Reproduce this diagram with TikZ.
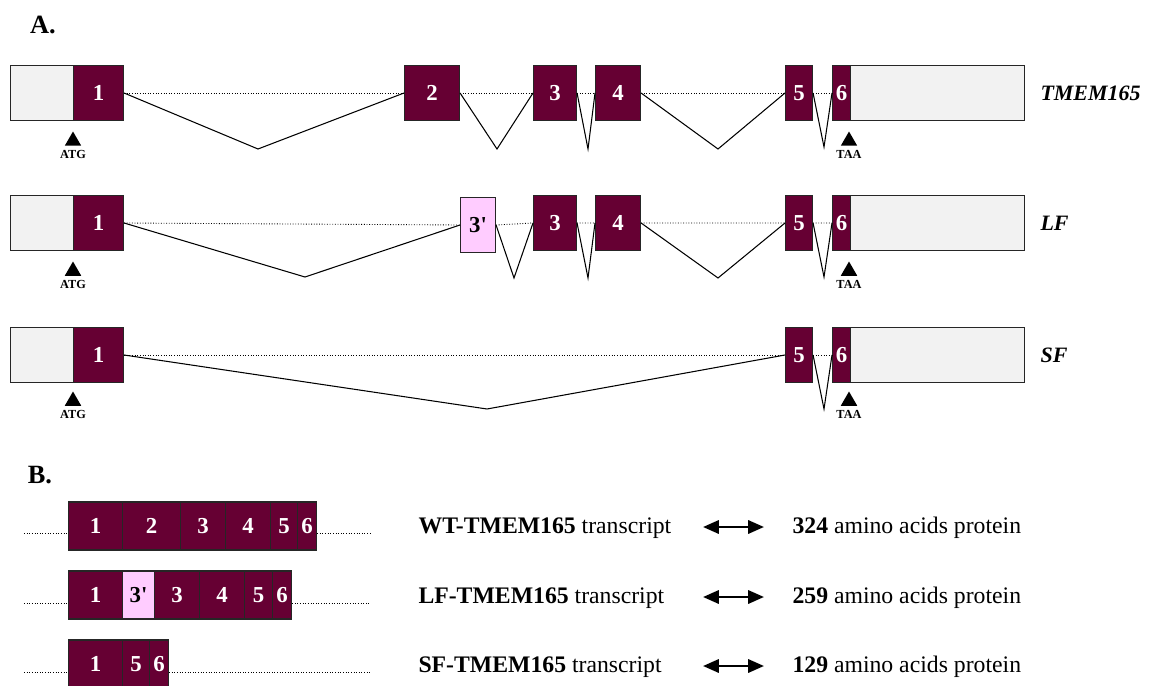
\documentclass[tikz,border=0pt]{standalone}
\usepackage{fontspec}
\setmainfont{Liberation Serif}
\usetikzlibrary{arrows.meta,shapes.geometric}
\definecolor{exonred}{RGB}{102,0,51}
\definecolor{utrgray}{RGB}{242,242,242}
\definecolor{altpink}{RGB}{255,204,255}

\begin{document}
\begin{tikzpicture}[x=0.02cm,y=-0.02cm,line width=.6pt,
  exon/.style={draw=black!85,fill=exonred,text=white,font=\fontsize{13}{15}\selectfont\bfseries,inner sep=0pt,anchor=west,minimum height=1.1cm},
  altexon/.style={exon,fill=altpink,text=black},
  utr/.style={exon,fill=utrgray},
  pexon/.style={exon,minimum height=.96cm},
  intron/.style={densely dotted,line width=.5pt},
  cdn/.style={regular polygon,regular polygon sides=3,fill=black,inner sep=0pt,minimum size=.38cm},
  cdnlab/.style={font=\fontsize{7}{8}\selectfont\bfseries,inner sep=0pt},
  gene/.style={font=\fontsize{12.5}{14}\selectfont\bfseries\itshape,anchor=west,inner sep=0pt},
  panel/.style={font=\fontsize{15}{17}\selectfont\bfseries,inner sep=0pt},
  txt/.style={font=\fontsize{13.5}{15}\selectfont,anchor=base west,inner sep=0pt},
  dbl/.style={{Triangle[length=9pt,width=7.5pt]}-{Triangle[length=9pt,width=7.5pt]},line width=1.5pt}]
\useasboundingbox (0,0) rectangle (1153,686);

% panel A
\node[panel] (pa) at (43,25) {A.};
% TMEM165
\node[utr,minimum width=1.26cm] (a0) at (10,93) {};
\node[utr,minimum width=3.48cm] (a7) at (850,93) {};
\foreach \n/\l/\r/\t in {a1/73/123/1,a2/404/459/2,a3/533/576/3,a4/595/640/4,a5/785/812/5,a6/832/850/6}
  \node[exon,minimum width={(\r-\l)*0.02cm}] (\n) at (\l,93) {\t};
\draw[intron] (a1.east)--(a2.west) (a2.east)--(a3.west) (a3.east)--(a4.west) (a4.east)--(a5.west) (a5.east)--(a6.west);
\coordinate (va1) at (258,149); \coordinate (va2) at (497,149); \coordinate (va3) at (588,149);
\coordinate (va4) at (718,149); \coordinate (va5) at (824,147);
\draw (a1.east)--(va1)--(a2.west) (a2.east)--(va2)--(a3.west) (a3.east)--(va3)--(a4.west)
  (a4.east)--(va4)--(a5.west) (a5.east)--(va5)--(a6.west);
\node[gene] (ga) at (1040,93) {TMEM165};

% LF
\node[utr,minimum width=1.26cm] (b0) at (10,223) {};
\node[utr,minimum width=3.48cm] (b7) at (850,223) {};
\foreach \n/\l/\r/\t in {b1/73/123/1,b3/533/576/3,b4/595/640/4,b5/785/812/5,b6/832/850/6}
  \node[exon,minimum width={(\r-\l)*0.02cm}] (\n) at (\l,223) {\t};
\node[altexon,minimum width=.7cm] (b2) at (460,225) {3\textquotesingle};
\draw[intron] (b1.east)--(b2.west) (b2.east)--(b3.west) (b3.east)--(b4.west) (b4.east)--(b5.west) (b5.east)--(b6.west);
\coordinate (vb1) at (305,277); \coordinate (vb2) at (514,278); \coordinate (vb3) at (588,278);
\coordinate (vb4) at (718,278); \coordinate (vb5) at (824,277);
\draw (b1.east)--(vb1)--(b2.west) (b2.east)--(vb2)--(b3.west) (b3.east)--(vb3)--(b4.west)
  (b4.east)--(vb4)--(b5.west) (b5.east)--(vb5)--(b6.west);
\node[gene] (gb) at (1040,223) {LF};

% SF
\node[utr,minimum width=1.26cm] (c0) at (10,355) {};
\node[utr,minimum width=3.48cm] (c7) at (850,355) {};
\foreach \n/\l/\r/\t in {c1/73/123/1,c5/785/812/5,c6/832/850/6}
  \node[exon,minimum width={(\r-\l)*0.02cm}] (\n) at (\l,355) {\t};
\draw[intron] (c1.east)--(c5.west) (c5.east)--(c6.west);
\coordinate (vc1) at (487,409); \coordinate (vc2) at (824,409);
\draw (c1.east)--(vc1)--(c5.west) (c5.east)--(vc2)--(c6.west);
\node[gene] (gc) at (1040,355) {SF};

% start / stop codons
\foreach \r/\y in {a/141,b/271,c/401}{
  \node[cdn] (\r start) at (73,\y) {};
  \node[cdnlab] at (73,\y+13) {ATG};
  \node[cdn] (\r stop) at (849,\y) {};
  \node[cdnlab] at (849,\y+13) {TAA};
}

% panel B
\node[panel] (pb) at (40,475) {B.};
\foreach \n/\l/\r/\t in {p1/68/122/1,p2/122/180/2,p3/180/225/3,p4/225/270/4,p5/270/297/5,p6/297/316/6}
  \node[pexon,minimum width={(\r-\l)*0.02cm}] (\n) at (\l,526) {\t};
\foreach \n/\l/\r/\t in {q1/68/122/1,q3/154/199/3,q4/199/244/4,q5/244/272/5,q6/272/291/6}
  \node[pexon,minimum width={(\r-\l)*0.02cm}] (\n) at (\l,595) {\t};
\node[pexon,fill=altpink,text=black,minimum width=.64cm] (q2) at (122,595) {3\textquotesingle};
\foreach \n/\l/\r/\t in {s1/68/122/1,s2/122/149/5,s3/149/168/6}
  \node[pexon,minimum width={(\r-\l)*0.02cm}] (\n) at (\l,664) {\t};
\coordinate (pl) at (24,533); \coordinate (pr) at (371,533);
\coordinate (ql) at (24,603); \coordinate (qr) at (371,603);
\coordinate (sl) at (24,672); \coordinate (sr) at (371,672);
\draw[intron] (pl)--(pl-|p1.west) (p6.east|-pr)--(pr)
  (ql)--(ql-|q1.west) (q6.east|-qr)--(qr)
  (sl)--(sl-|s1.west) (s3.east|-sr)--(sr);

\node[txt] (tw) at (418,533) {\textbf{WT-TMEM165} transcript};
\node[txt] (tl) at (418,603) {\textbf{LF-TMEM165} transcript};
\node[txt] (ts) at (418,672) {\textbf{SF-TMEM165} transcript};
\node[txt] (rw) at (792,533) {\textbf{324} amino acids protein};
\node[txt] (rl) at (792,603) {\textbf{259} amino acids protein};
\node[txt] (rs) at (792,672) {\textbf{129} amino acids protein};
\foreach \t/\y in {w/527,l/597,s/666}{
  \coordinate (x\t l) at (703,\y); \coordinate (x\t r) at (764,\y);
  \draw[dbl] (x\t l)--(x\t r);
}
\end{tikzpicture}
\end{document}
